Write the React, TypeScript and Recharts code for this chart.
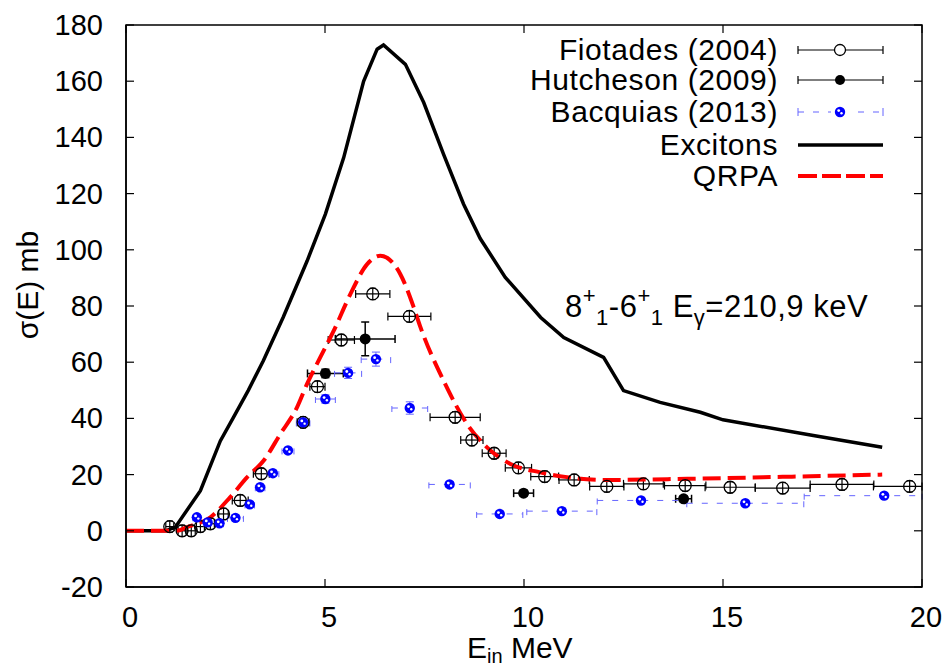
import {
  ComposedChart,
  ErrorBar,
  Line,
  Scatter,
  XAxis,
  YAxis,
} from "recharts";

// x in MeV, sigma in mb
const fiotadesE = [1.1, 1.41, 1.64, 1.87, 2.12, 2.45, 2.87, 3.4, 4.45, 4.81, 5.41, 6.2, 7.12, 8.27, 8.69, 9.25, 9.86, 10.52, 11.26, 12.08, 13.0, 14.05, 15.18, 16.5, 17.99, 19.69];
const fiotadesS = [1.5, 0, 0, 1.5, 2.5, 6, 10.8, 20.3, 38.6, 51.3, 67.9, 84.3, 76.3, 40.4, 32.3, 27.6, 22.4, 19.3, 18.1, 15.8, 16.7, 16.1, 15.5, 15.2, 16.5, 15.8];
// [low, high] energy errors; the last one runs into the frame
const fiotadesDE = [0.1, 0.1, 0.1, 0.1, 0.1, 0.12, 0.2, 0.2, 0.15, 0.19, 0.33, 0.43, 0.54, 0.63, 0.28, 0.3, 0.33, 0.35, 0.38, 0.43, 0.5, 0.52, 0.63, 0.69, 0.8, [0.91, 0.31]];

const hutchesonE = [5.01, 6.01, 9.99, 14.01];
const hutchesonS = [56, 68.3, 13.4, 11.4];
const hutchesonDE = [0.45, 0.75, 0.25, 0.2];
const hutchesonDS = [1.5, 6, 1, 1];

const bacquiasE = [1.78, 2.05, 2.35, 2.75, 3.11, 3.37, 3.69, 4.07, 4.45, 5.01, 5.58, 6.28, 7.13, 8.13, 9.39, 10.95, 12.94, 15.56, 19.05];
const bacquiasS = [4.8, 3, 2.7, 4.6, 9.4, 15.5, 20.5, 28.6, 38.6, 46.9, 56.2, 61.1, 43.7, 16.5, 6.0, 7.0, 10.8, 9.8, 12.5];
const bacquiasDE = [0.1, 0.1, 0.1, 0.2, 0.12, 0.12, 0.15, 0.15, 0.17, 0.25, 0.34, 0.37, 0.45, 0.52, 0.58, 0.88, 1.1, 1.47, [2.01, 0.95]];
const bacquiasDS = [1, 1, 1, 1, 1, 1, 1, 1, 1.5, 1.5, 2, 2.5, 2.2, 1, 1, 1, 1, 1, 1];

const excitonsE = [0, 0.5, 1.0, 1.24, 1.87, 2.37, 2.7, 3.07, 3.45, 3.95, 4.55, 5.01, 5.47, 5.97, 6.31, 6.47, 7.02, 7.48, 7.98, 8.48, 8.9, 9.53, 10.42, 11.0, 12.0, 12.5, 13.42, 14.43, 15.0, 17.27, 19.0];
const excitonsS = [0, 0, 0, 1.3, 14.3, 32, 40.4, 49.9, 60.5, 76, 96, 112.7, 132.8, 160, 171.4, 172.9, 166, 152.4, 134, 116.3, 104, 90.2, 75.9, 68.8, 61.7, 49.9, 45.7, 42.2, 39.5, 33.9, 29.7];

const qrpaE = [0, 1.28, 1.53, 2.12, 2.62, 3.04, 3.46, 3.88, 4.3, 4.55, 4.88, 5.22, 5.64, 6.06, 6.39, 6.89, 7.23, 7.4, 7.98, 8.57, 9.07, 9.66, 10.41, 11.08, 12.09, 14.1, 16.5, 19.0];
const qrpaS = [0, 0, 1.3, 4.8, 12, 19, 25, 34.5, 44, 52.3, 61.7, 71.2, 84.3, 94.9, 97.9, 91.4, 79.5, 72.4, 53.4, 38, 29.7, 23.8, 20.8, 19.1, 18.1, 18.5, 19.2, 20];

const xTicks = [0, 5, 10, 15, 20];
const yTicks = [-20, 0, 20, 40, 60, 80, 100, 120, 140, 160, 180];

const fiotades = fiotadesE.map((x, i) => ({ x, y: fiotadesS[i], ex: fiotadesDE[i], ey: 2 }));
const hutcheson = hutchesonE.map((x, i) => ({ x, y: hutchesonS[i], ex: hutchesonDE[i], ey: hutchesonDS[i] }));
const bacquias = bacquiasE.map((x, i) => ({ x, y: bacquiasS[i], ex: bacquiasDE[i], ey: bacquiasDS[i] }));
const excitons = excitonsE.map((x, i) => ({ x, y: excitonsS[i] }));
const qrpa = qrpaE.map((x, i) => ({ x, y: qrpaS[i] }));

const W = 951;
const H = 669;
const LEFT = 126;
const RIGHT = 922;
const TOP = 25;
const BOTTOM = 587;
const FONT = "'Liberation Sans', Arial, Helvetica, sans-serif";
const BLUE = "#0000ff";
const BAR_BLUE = "#6464ff";
const RED = "#ff0000";

// frame position of a tick value, for the mirrored ticks on top and right
const fx = (v: number) => LEFT + ((v - 0) / 20) * (RIGHT - LEFT);
const fy = (v: number) => BOTTOM - ((v + 20) / 200) * (BOTTOM - TOP);

const BottomTick = (p: any) => (
  <g>
    <line x1={p.x} x2={p.x} y1={BOTTOM} y2={BOTTOM - 8} stroke="#000" strokeWidth={1.2} />
    <text x={p.x + 4} y={BOTTOM + 40} textAnchor="middle" fontSize={29} fontFamily={FONT} fill="#000">
      {p.payload.value}
    </text>
  </g>
);
const LeftTick = (p: any) => (
  <g>
    <line x1={LEFT} x2={LEFT + 8} y1={p.y} y2={p.y} stroke="#000" strokeWidth={1.2} />
    <text x={103} y={p.y + 10} textAnchor="end" fontSize={29} fontFamily={FONT} fill="#000">
      {p.payload.value}
    </text>
  </g>
);

const OpenDot = (p: any) => (
  <circle cx={p.cx} cy={p.cy} r={6} fill="none" stroke="#000" strokeWidth={1.3} />
);
const FullDot = (p: any) => <circle cx={p.cx} cy={p.cy} r={5.5} fill="#000" />;
const BlueDot = (p: any) => (
  <g>
    <circle cx={p.cx} cy={p.cy} r={5.2} fill={BLUE} />
    <circle cx={p.cx - 1.3} cy={p.cy - 1.4} r={1.4} fill="#fff" />
    <circle cx={p.cx + 1.5} cy={p.cy + 1.3} r={1.2} fill="#fff" />
  </g>
);

const legendRows = [
  { label: "Fiotades (2004)", y: 50 },
  { label: "Hutcheson (2009)", y: 80 },
  { label: "Bacquias (2013)", y: 112 },
  { label: "Excitons", y: 145 },
  { label: "QRPA", y: 176 },
];

function Overlay() {
  const x1 = 798;
  const x2 = 883;
  const xm = 840;
  const [f, h, b, e, q] = legendRows.map((r) => r.y);
  return (
    <svg width={W} height={H} style={{ position: "absolute", left: 0, top: 0, pointerEvents: "none" }}>
      <rect x={LEFT} y={TOP} width={RIGHT - LEFT} height={BOTTOM - TOP} fill="none" stroke="#000" strokeWidth={1.5} />
      <g stroke="#000" strokeWidth={1.2}>
        {xTicks.map((t) => (
          <line key={"t" + t} x1={fx(t)} x2={fx(t)} y1={TOP} y2={TOP + 8} />
        ))}
        {yTicks.map((t) => (
          <line key={"r" + t} x1={RIGHT - 8} x2={RIGHT} y1={fy(t)} y2={fy(t)} />
        ))}
      </g>
      <g fontFamily={FONT} fontSize={30} letterSpacing={0.6} fill="#000">
        {legendRows.map((r) => (
          <text key={r.label} x={778} y={r.y + 10} textAnchor="end">
            {r.label}
          </text>
        ))}
      </g>
      <g stroke="#000" strokeWidth={1.2}>
        <line x1={x1} x2={x2} y1={f} y2={f} />
        <line x1={x1} x2={x1} y1={f - 4} y2={f + 4} />
        <line x1={x2} x2={x2} y1={f - 4} y2={f + 4} />
        <line x1={x1} x2={x2} y1={h} y2={h} />
        <line x1={x1} x2={x1} y1={h - 4} y2={h + 4} />
        <line x1={x2} x2={x2} y1={h - 4} y2={h + 4} />
      </g>
      <circle cx={xm} cy={f} r={5.5} fill="#fff" stroke="#000" strokeWidth={1.3} />
      <circle cx={xm} cy={h} r={5} fill="#000" />
      <g stroke={BAR_BLUE} strokeWidth={1}>
        <line x1={x1} x2={x2} y1={b} y2={b} strokeDasharray="6 9" />
        <line x1={x1} x2={x1} y1={b - 4} y2={b + 4} />
        <line x1={x2} x2={x2} y1={b - 4} y2={b + 4} />
      </g>
      <rect x={xm - 9} y={b - 6} width={18} height={12} fill="#fff" />
      <BlueDot cx={xm} cy={b} />
      <line x1={x1} x2={x2} y1={e} y2={e} stroke="#000" strokeWidth={3.5} />
      <line x1={x1} x2={x2} y1={q} y2={q} stroke={RED} strokeWidth={4} strokeDasharray="19 5" />

      <text x={565} y={317} fontSize={31} letterSpacing={0.5} fontFamily={FONT} fill="#000">
        8<tspan dy={-14} fontSize={22}>+</tspan>
        <tspan dy={22} fontSize={22}>1</tspan>
        <tspan dy={-8}>-6</tspan>
        <tspan dy={-14} fontSize={22}>+</tspan>
        <tspan dy={22} fontSize={22}>1</tspan>
        <tspan dy={-8}> E</tspan>
        <tspan dy={8} fontSize={22}>γ</tspan>
        <tspan dy={-8}>=210,9 keV</tspan>
      </text>

      <text x={467} y={658} fontSize={30} fontFamily={FONT} fill="#000">
        E<tspan dy={5} fontSize={20}>in</tspan>
        <tspan dy={-5}> MeV</tspan>
      </text>
      <text
        x={38}
        y={285}
        transform="rotate(-90 38 285)"
        textAnchor="middle"
        fontSize={30}
        fontFamily={FONT}
        fill="#000"
      >
        σ(E) mb
      </text>
    </svg>
  );
}

export default function App() {
  return (
    <div style={{ position: "absolute", left: 0, top: 0, width: W, height: H, background: "#fff" }}>
      <ComposedChart width={W} height={H} margin={{ top: TOP, right: W - RIGHT, bottom: 0, left: LEFT - 100 }}>
        <XAxis
          xAxisId="b"
          type="number"
          dataKey="x"
          domain={[0, 20]}
          ticks={xTicks}
          allowDataOverflow
          height={H - BOTTOM}
          tickLine={false}
          axisLine={{ stroke: "#000", strokeWidth: 1.5 }}
          tick={<BottomTick />}
        />
        <YAxis
          yAxisId="l"
          type="number"
          domain={[-20, 180]}
          ticks={yTicks}
          allowDataOverflow
          width={100}
          tickLine={false}
          axisLine={{ stroke: "#000", strokeWidth: 1.5 }}
          tick={<LeftTick />}
        />

        <Scatter xAxisId="b" yAxisId="l" data={fiotades} dataKey="y" shape={<OpenDot />} isAnimationActive={false}>
          <ErrorBar direction="x" dataKey="ex" stroke="#000" strokeWidth={1.2} width={4} />
          <ErrorBar direction="y" dataKey="ey" stroke="#000" strokeWidth={1.2} width={3} />
        </Scatter>
        <Scatter xAxisId="b" yAxisId="l" data={hutcheson} dataKey="y" shape={<FullDot />} isAnimationActive={false}>
          <ErrorBar direction="x" dataKey="ex" stroke="#000" strokeWidth={1.5} width={4} />
          <ErrorBar direction="y" dataKey="ey" stroke="#000" strokeWidth={1.5} width={4} />
        </Scatter>
        <Scatter xAxisId="b" yAxisId="l" data={bacquias} dataKey="y" shape={<BlueDot />} isAnimationActive={false}>
          <ErrorBar direction="x" dataKey="ex" stroke={BAR_BLUE} strokeWidth={1} width={4} strokeDasharray="6 9" />
          <ErrorBar direction="y" dataKey="ey" stroke={BAR_BLUE} strokeWidth={1} width={4} />
        </Scatter>
        <Line
          xAxisId="b"
          yAxisId="l"
          data={excitons}
          dataKey="y"
          type="linear"
          stroke="#000"
          strokeWidth={3.5}
          dot={false}
          activeDot={false}
          isAnimationActive={false}
        />
        <Line
          xAxisId="b"
          yAxisId="l"
          data={qrpa}
          dataKey="y"
          type="monotone"
          stroke={RED}
          strokeWidth={4}
          strokeDasharray="18 7"
          dot={false}
          activeDot={false}
          isAnimationActive={false}
        />
      </ComposedChart>
      <Overlay />
    </div>
  );
}
